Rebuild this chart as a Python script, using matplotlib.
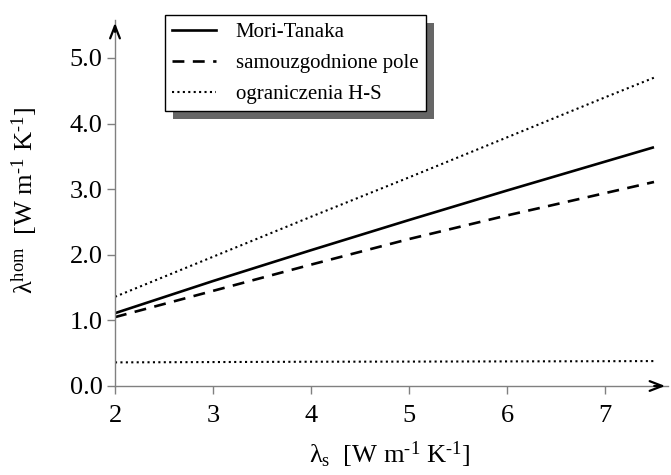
import matplotlib
matplotlib.use("Agg")
import matplotlib.pyplot as plt
from matplotlib.patches import Rectangle
from matplotlib.lines import Line2D

plt.rcParams['font.family'] = ['Liberation Serif', 'DejaVu Serif']
plt.rcParams['mathtext.fontset'] = 'custom'
plt.rcParams['mathtext.rm'] = 'Liberation Serif'
plt.rcParams['mathtext.it'] = 'Liberation Serif:italic'

# data
lam_s = [2, 3, 4, 5, 6, 7, 7.5]
mori_tanaka = [1.11, 1.60, 2.07, 2.53, 2.98, 3.42, 3.64]
self_consistent = [1.05, 1.45, 1.85, 2.24, 2.60, 2.94, 3.11]
hs_upper = [1.36, 1.97, 2.58, 3.18, 3.79, 4.40, 4.70]
hs_lower = [0.36, 0.365, 0.37, 0.372, 0.375, 0.378, 0.38]
xticks = [2, 3, 4, 5, 6, 7]
yticks = [0.0, 1.0, 2.0, 3.0, 4.0, 5.0]
ytick_labels = ['0.0', '1.0', '2.0', '3.0', '4.0', '5.0']
legend_labels = ['Mori-Tanaka', 'samouzgodnione pole', 'ograniczenia H-S']

W, H = 671, 475
fig = plt.figure(figsize=(W / 100, H / 100), dpi=100)
left, right, top, bottom = 115, 668, 20, 386
ax = fig.add_axes([left / W, (H - bottom) / H, (right - left) / W, (bottom - top) / H])
ax.set_xlim(2, 2 + (right - left) / 98.0)
ax.set_ylim(0, (bottom - top) / 65.6)

lw = 1.9
ax.plot(lam_s, mori_tanaka, color='black', lw=lw, solid_capstyle='butt')
ax.plot(lam_s, self_consistent, color='black', lw=lw, linestyle=(0, (4.5, 3.2)))
ax.plot(lam_s, hs_upper, color='black', lw=1.5, linestyle=(0, (1, 1.6)))
ax.plot(lam_s, hs_lower, color='black', lw=1.5, linestyle=(0, (1, 1.6)))

for s in ['top', 'right']:
    ax.spines[s].set_visible(False)
for s in ['left', 'bottom']:
    ax.spines[s].set_color('#808080')
    ax.spines[s].set_linewidth(1.0)

ax.set_xticks(xticks)
ax.set_xticklabels([str(t) for t in xticks])
ax.set_yticks(yticks)
ax.set_yticklabels(ytick_labels)
ax.tick_params(axis='both', direction='out', length=6, width=1.0, color='#808080',
               labelsize=19, labelcolor='black')
ax.tick_params(axis='x', pad=8)
ax.tick_params(axis='y', pad=3)

# arrow heads
ax.annotate('', xy=(1.0, 0), xycoords='axes fraction', xytext=(0.97, 0),
            arrowprops=dict(arrowstyle='->,head_length=0.9,head_width=0.35', color='black', lw=1.6))
ax.annotate('', xy=(0, 1.0), xycoords='axes fraction', xytext=(0, 0.96),
            arrowprops=dict(arrowstyle='->,head_length=0.9,head_width=0.35', color='black', lw=1.6))

hy = '\u2010'
fig.text(390 / W, 1 - 455 / H,
         r'λ$_{\mathrm{s}}$  [W m$^{\mathrm{' + hy + r'1}}$ K$^{\mathrm{' + hy + r'1}}$]',
         ha='center', va='center', fontsize=19)
fig.text(25 / W, 1 - 200 / H,
         r'λ$^{\mathrm{hom}}$  [W m$^{\mathrm{' + hy + r'1}}$ K$^{\mathrm{' + hy + r'1}}$]',
         ha='center', va='center', fontsize=19, rotation=90)

handles = [Line2D([], [], color='black', lw=lw),
           Line2D([], [], color='black', lw=lw, linestyle=(0, (4.5, 3.2))),
           Line2D([], [], color='black', lw=1.5, linestyle=(0, (1, 1.6)))]
leg = fig.legend(handles, legend_labels, loc='upper left',
                 bbox_to_anchor=(165 / W, 1 - 15 / H), bbox_transform=fig.transFigure,
                 borderaxespad=0, fontsize=15, frameon=True, fancybox=False,
                 edgecolor='black', facecolor='white', framealpha=1.0,
                 handlelength=2.1, handletextpad=0.95,
                 labelspacing=0.55, borderpad=0.35)
leg.get_frame().set_linewidth(1.0)
leg.set_zorder(5)

fig.canvas.draw()
bb = leg.get_window_extent()
off = 8
shadow = Rectangle((bb.x0 + off, bb.y0 - off), bb.width, bb.height, transform=None,
                   facecolor='#666666', edgecolor='none', zorder=4)
fig.add_artist(shadow)

fig.savefig('out.png', dpi=100)
